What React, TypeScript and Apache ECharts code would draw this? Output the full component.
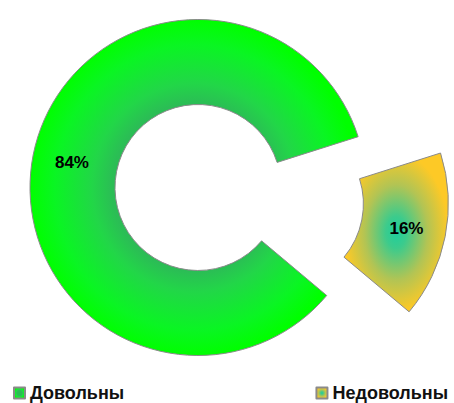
import React, { useEffect, useRef } from "react";
import * as echarts from "echarts";

const categories = ["Довольны", "Недовольны"];
const values = [84, 16];

const greenFill = {
  type: "radial",
  x: 0.5,
  y: 0.5,
  r: 0.5,
  colorStops: [
    { offset: 0, color: "#2bb955" },
    { offset: 0.5, color: "#2bbd55" },
    { offset: 0.62, color: "#22d648" },
    { offset: 0.85, color: "#0af523" },
    { offset: 1, color: "#00ff00" },
  ],
};

const yellowFill = {
  type: "radial",
  x: 0.5,
  y: 0.5,
  r: 0.5,
  colorStops: [
    { offset: 0, color: "#1ecf9c" },
    { offset: 0.2, color: "#3ccb8c" },
    { offset: 0.6, color: "#b2c454" },
    { offset: 1, color: "#fdc926" },
  ],
};

const fills = [greenFill, yellowFill];

export default function App() {
  const ref = useRef<HTMLDivElement>(null);
  useEffect(() => {
    if (!ref.current) return;
    const chart = echarts.init(ref.current, null, { renderer: "svg" });
    const font = "'Liberation Sans', Arial, sans-serif";
    const legendText = { fontSize: 18, fontWeight: "bold", color: "#111", fontFamily: font };
    chart.setOption({
      animation: false,
      backgroundColor: "#ffffff",
      legend: [
        {
          data: [categories[0]],
          left: 13,
          top: 384,
          padding: 0,
          icon: "rect",
          itemWidth: 11,
          itemHeight: 11,
          selectedMode: false,
          textStyle: legendText,
        },
        {
          data: [categories[1]],
          right: 6,
          top: 384,
          padding: 0,
          icon: "rect",
          itemWidth: 11,
          itemHeight: 11,
          selectedMode: false,
          textStyle: legendText,
        },
      ],
      series: [
        {
          type: "pie",
          center: [198, 187.5],
          radius: [83, 168],
          startAngle: -40,
          clockwise: true,
          selectedMode: "single",
          selectedOffset: 84,
          avoidLabelOverlap: false,
          emphasis: { disabled: true },
          label: {
            show: true,
            position: "inside",
            formatter: "{d}%",
            fontSize: 17,
            fontWeight: "bold",
            color: "#000",
            fontFamily: font,
          },
          labelLine: { show: false },
          itemStyle: { borderColor: "#8a8a8a", borderWidth: 1 },
          data: categories.map((name, i) => ({
            name,
            value: values[i],
            selected: i === 1,
            itemStyle: { color: fills[i] },
          })),
        },
      ],
    });
    return () => chart.dispose();
  }, []);
  return (
    <div
      ref={ref}
      style={{ position: "absolute", left: 0, top: 0, width: 454, height: 403 }}
    />
  );
}
